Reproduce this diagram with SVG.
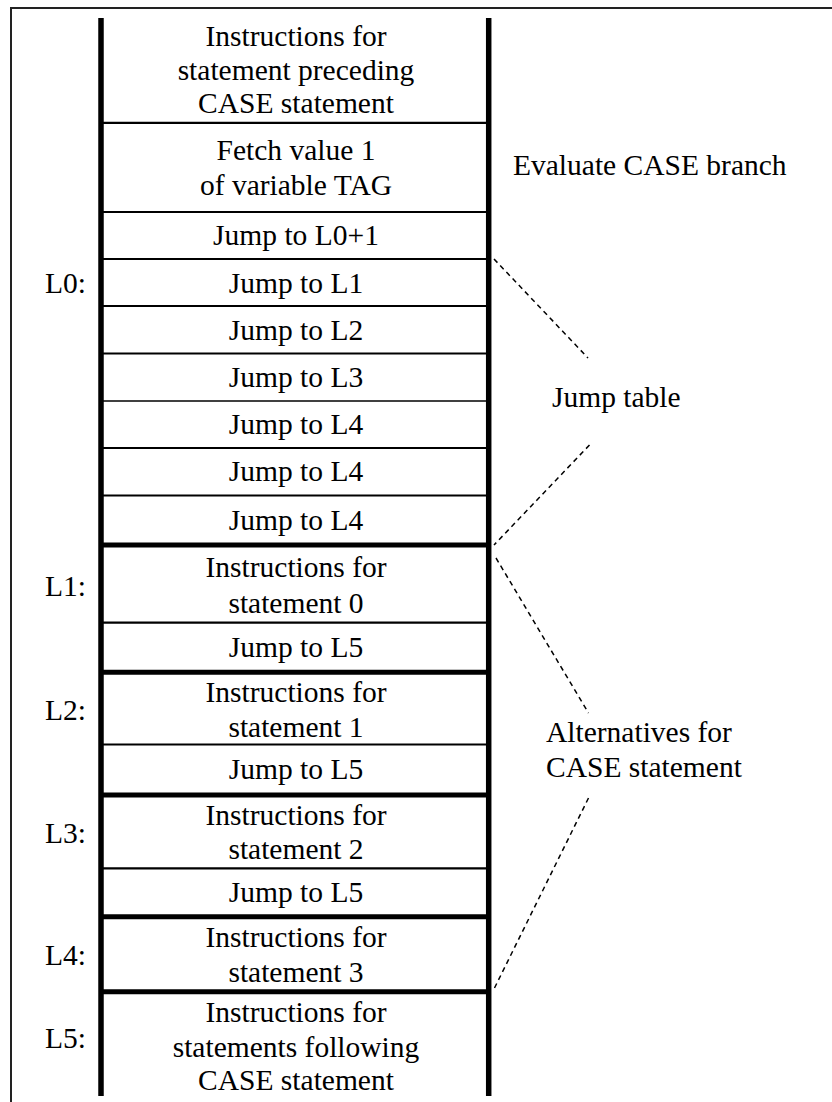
<svg xmlns="http://www.w3.org/2000/svg" width="832" height="1102" viewBox="0 0 832 1102">
<style>
text{font-family:"Liberation Serif","Times New Roman",serif;font-size:29.5px;fill:#000}
.c{text-anchor:middle}
.lbl{text-anchor:start}
.thin{stroke:#000;stroke-width:2.2}
.hair{stroke:#000;stroke-width:1.3}
.thick{stroke:#000;stroke-width:5}
.vert{stroke:#000;stroke-width:5.5}
.dash{stroke:#000;stroke-width:1.5;stroke-dasharray:5 4;fill:none}
</style>
<rect x="0" y="0" width="832" height="1102" fill="#fff"/>
<rect x="11" y="8" width="830" height="1110" fill="none" stroke="#222" stroke-width="2"/>
<g id="column">
<line class="vert" x1="101" y1="18" x2="101" y2="1096"/>
<line class="vert" x1="488.7" y1="18" x2="488.7" y2="1096"/>
<line class="thin" x1="101" y1="122.8" x2="488.7" y2="122.8"/>
<line class="thin" x1="101" y1="212" x2="488.7" y2="212"/>
<line class="thin" x1="101" y1="259" x2="488.7" y2="259"/>
<line class="thin" x1="101" y1="306" x2="488.7" y2="306"/>
<line class="thin" x1="101" y1="353.5" x2="488.7" y2="353.5"/>
<line class="hair" x1="101" y1="401" x2="488.7" y2="401"/>
<line class="thin" x1="101" y1="448" x2="488.7" y2="448"/>
<line class="thin" x1="101" y1="495.5" x2="488.7" y2="495.5"/>
<line class="thick" x1="101" y1="545" x2="488.7" y2="545"/>
<line class="thin" x1="101" y1="622.7" x2="488.7" y2="622.7"/>
<line class="thick" x1="101" y1="672.3" x2="488.7" y2="672.3"/>
<line class="thin" x1="101" y1="744.5" x2="488.7" y2="744.5"/>
<line class="thick" x1="101" y1="795" x2="488.7" y2="795"/>
<line class="thin" x1="101" y1="868.3" x2="488.7" y2="868.3"/>
<line class="thick" x1="101" y1="916.7" x2="488.7" y2="916.7"/>
<line class="thick" x1="101" y1="991.7" x2="488.7" y2="991.7"/>
</g>
<g id="cell-preceding"><text class="c" x="296" y="45.7">Instructions for</text><text class="c" x="296" y="80">statement preceding</text><text class="c" x="296" y="113.3">CASE statement</text></g>
<g id="cell-fetch"><text class="c" x="296" y="160">Fetch value 1</text><text class="c" x="296" y="195">of variable TAG</text></g>
<g id="cell-jump-l0p1"><text class="c" x="296" y="245">Jump to L0+1</text></g>
<g id="cell-jt-1"><text class="c" x="296" y="292.5">Jump to L1</text></g>
<g id="cell-jt-2"><text class="c" x="296" y="339.5">Jump to L2</text></g>
<g id="cell-jt-3"><text class="c" x="296" y="387">Jump to L3</text></g>
<g id="cell-jt-4"><text class="c" x="296" y="434">Jump to L4</text></g>
<g id="cell-jt-5"><text class="c" x="296" y="481">Jump to L4</text></g>
<g id="cell-jt-6"><text class="c" x="296" y="529.5">Jump to L4</text></g>
<g id="cell-stmt0"><text class="c" x="296" y="577.3">Instructions for</text><text class="c" x="296" y="612.7">statement 0</text></g>
<g id="cell-jump-a"><text class="c" x="296" y="656.7">Jump to L5</text></g>
<g id="cell-stmt1"><text class="c" x="296" y="701.7">Instructions for</text><text class="c" x="296" y="737.3">statement 1</text></g>
<g id="cell-jump-b"><text class="c" x="296" y="779.3">Jump to L5</text></g>
<g id="cell-stmt2"><text class="c" x="296" y="825">Instructions for</text><text class="c" x="296" y="859.3">statement 2</text></g>
<g id="cell-jump-c"><text class="c" x="296" y="901.7">Jump to L5</text></g>
<g id="cell-stmt3"><text class="c" x="296" y="946.7">Instructions for</text><text class="c" x="296" y="981.7">statement 3</text></g>
<g id="cell-following"><text class="c" x="296" y="1021.7">Instructions for</text><text class="c" x="296" y="1056.7">statements following</text><text class="c" x="296" y="1090">CASE statement</text></g>
<g id="labels-left">
<text class="lbl" x="45" y="292.7">L0:</text>
<text class="lbl" x="45" y="596">L1:</text>
<text class="lbl" x="45" y="719.5">L2:</text>
<text class="lbl" x="45" y="842.7">L3:</text>
<text class="lbl" x="45" y="965">L4:</text>
<text class="lbl" x="45" y="1048.3">L5:</text>
</g>
<g id="label-evaluate"><text class="lbl" x="513" y="175">Evaluate CASE branch</text></g>
<g id="label-jumptable"><text class="lbl" x="552" y="406.7">Jump table</text></g>
<g id="label-alternatives"><text class="lbl" x="546" y="741.7">Alternatives for</text><text class="lbl" x="546" y="776.7">CASE statement</text></g>
<g id="connectors">
<line class="dash" x1="494" y1="259" x2="588" y2="358"/>
<line class="dash" x1="589.5" y1="445" x2="494" y2="545"/>
<line class="dash" x1="496" y1="558" x2="588.5" y2="713"/>
<line class="dash" x1="588.5" y1="798" x2="494" y2="989"/>
</g>
</svg>
